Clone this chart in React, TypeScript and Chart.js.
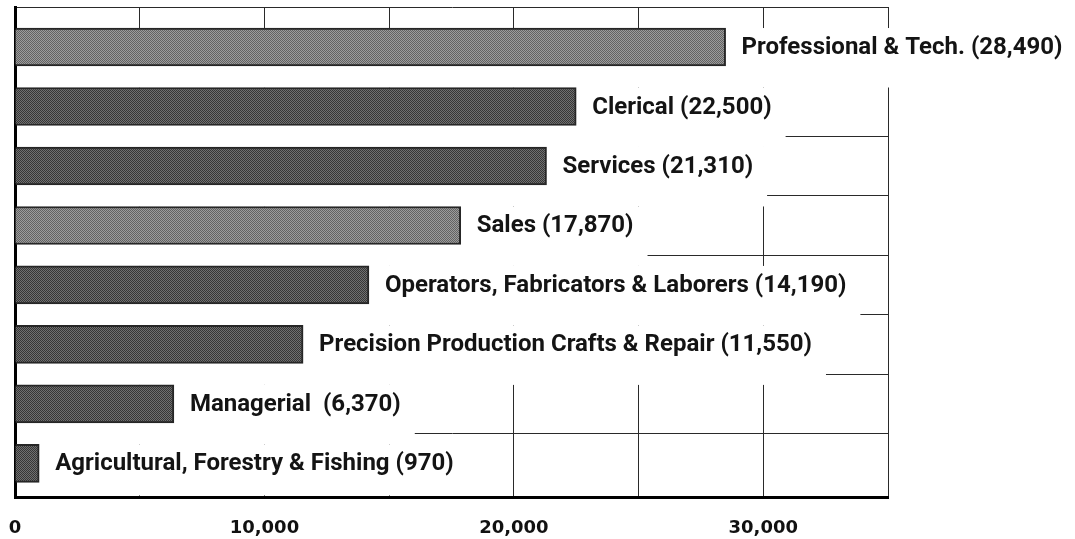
import { useEffect, useRef } from 'react';
import { Chart, registerables } from 'chart.js';

Chart.register(...registerables);

// ---- data ----
const categories = [
  'Professional & Tech.',
  'Clerical',
  'Services',
  'Sales',
  'Operators, Fabricators & Laborers',
  'Precision Production Crafts & Repair',
  'Managerial ',
  'Agricultural, Forestry & Fishing',
];
const values = [28490, 22500, 21310, 17870, 14190, 11550, 6370, 970];
const xTickLabels = ['0', '10,000', '20,000', '30,000'];
const xMax = 35000;
const xGridStep = 5000;

// ---- style ----
const lightBars = [true, false, false, true, false, false, false, false];
const LABEL_FONT = 'bold 24px Roboto';
const LABEL_GAP = 16;

function makePattern(base: string, dot: string): CanvasPattern | string {
  const c = document.createElement('canvas');
  c.width = 2;
  c.height = 2;
  const g = c.getContext('2d');
  if (!g) return base;
  g.fillStyle = base;
  g.fillRect(0, 0, 2, 2);
  g.fillStyle = dot;
  g.fillRect(0, 0, 1, 1);
  g.fillRect(1, 1, 1, 1);
  return g.createPattern(c, 'repeat') || base;
}

const fmt = (v: number) => v.toLocaleString('en-US');
const labelText = (i: number) => `${categories[i]} (${fmt(values[i])})`;

export default function App() {
  const ref = useRef<HTMLCanvasElement | null>(null);

  useEffect(() => {
    if (!ref.current) return;
    const light = makePattern('#9c9c9c', '#626262');
    const dark = makePattern('#707070', '#363636');

    const whiteBoxes = {
      id: 'whiteBoxes',
      beforeDatasetsDraw(chart: any) {
        const ctx = chart.ctx;
        const area = chart.chartArea;
        const meta = chart.getDatasetMeta(0);
        const ys = chart.scales.y;
        const rowH = Math.abs(ys.getPixelForValue(1) - ys.getPixelForValue(0));
        ctx.save();
        ctx.font = LABEL_FONT;
        ctx.fillStyle = '#ffffff';
        meta.data.forEach((el: any, i: number) => {
          const w = ctx.measureText(labelText(i)).width;
          const top = el.y - el.height / 2;
          const bottom = Math.min(top + rowH, area.bottom - 2);
          const left = area.left + 2;
          const right = el.x + LABEL_GAP + w + 14;
          ctx.fillRect(left, top, right - left, bottom - top);
        });
        ctx.restore();
      },
    };

    const barLabels = {
      id: 'barLabels',
      afterDatasetsDraw(chart: any) {
        const ctx = chart.ctx;
        const meta = chart.getDatasetMeta(0);
        ctx.save();
        ctx.font = LABEL_FONT;
        ctx.fillStyle = '#141414';
        ctx.textAlign = 'left';
        ctx.textBaseline = 'middle';
        meta.data.forEach((el: any, i: number) => {
          ctx.fillText(labelText(i), el.x + LABEL_GAP, el.y + 1);
        });
        ctx.restore();
      },
    };

    const yMin = -0.673;
    const yMax = 7.572;

    const chart = new Chart(ref.current, {
      type: 'bar',
      data: {
        datasets: [
          {
            data: values.map((v, i) => ({ x: v, y: i })) as any,
            backgroundColor: values.map((_, i) => (lightBars[i] ? light : dark)) as any,
            borderColor: '#262626',
            borderWidth: 2,
            barThickness: 38,
          },
        ],
      },
      options: {
        indexAxis: 'y',
        animation: false,
        responsive: false,
        layout: { padding: { left: 15, right: 187, top: 7, bottom: 0 } },
        plugins: { legend: { display: false }, tooltip: { enabled: false } },
        scales: {
          x: {
            type: 'linear',
            min: 0,
            max: xMax,
            offset: false,
            afterFit: (scale: any) => {
              scale.paddingLeft = 0;
              scale.paddingRight = 0;
            },
            grid: { color: '#2a2a2a', lineWidth: 1, drawTicks: false, offset: false },
            border: { display: true, color: '#000', width: 3 },
            ticks: {
              stepSize: xGridStep,
              autoSkip: false,
              maxRotation: 0,
              padding: 20,
              color: '#111',
              font: { family: 'DejaVu Sans', weight: 'bold', size: 18 },
              callback: (v: any) => {
                const n = Number(v);
                return n % 10000 === 0 ? xTickLabels[n / 10000] ?? '' : '';
              },
            },
          },
          y: {
            type: 'linear',
            reverse: true,
            min: yMin,
            max: yMax,
            offset: false,
            afterBuildTicks: (scale: any) => {
              const t = [yMin];
              for (let i = 0; i < categories.length - 1; i++) t.push(i + 0.5);
              scale.ticks = t.map((value) => ({ value }));
            },
            afterFit: (scale: any) => {
              scale.width = 0;
            },
            grid: { color: '#2a2a2a', lineWidth: 1, drawTicks: false, offset: false },
            border: { display: true, color: '#000', width: 3 },
            ticks: { display: false },
          },
        },
      },
      plugins: [whiteBoxes, barLabels],
    });

    return () => chart.destroy();
  }, []);

  return (
    <div
      style={{
        position: 'absolute',
        left: 0,
        top: 0,
        width: 1075,
        height: 539,
        overflow: 'hidden',
        background: '#fff',
      }}
    >
      <canvas ref={ref} width={1075} height={559} style={{ display: 'block' }} />
    </div>
  );
}
